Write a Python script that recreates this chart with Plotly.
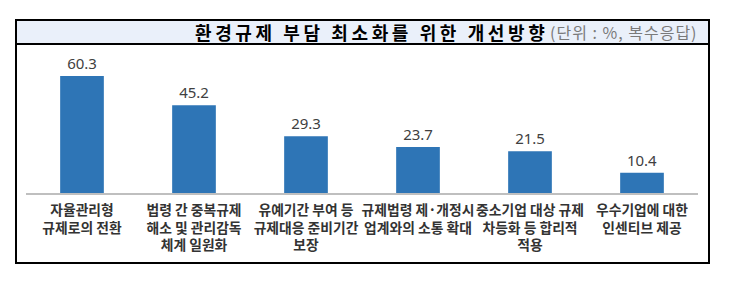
import plotly.graph_objects as go

categories = [
    "자율관리형<br>규제로의 전환",
    "법령 간 중복규제<br>해소 및 관리감독<br>체계 일원화",
    "유예기간 부여 등<br>규제대응 준비기간<br>보장",
    "규제법령 제·개정시<br>업계와의 소통 확대",
    "중소기업 대상 규제<br>차등화 등 합리적<br>적용",
    "우수기업에 대한<br>인센티브 제공",
]
values = [60.3, 45.2, 29.3, 23.7, 21.5, 10.4]
title_text = "환경규제 부담 최소화를 위한 개선방향"
unit_text = "(단위 : %, 복수응답)"

W, H = 730, 281
L, R = 26, 698
T, B = 45, 193
pw, ph = R - L, B - T

def px(x):
    return (x - L) / pw

def py(y):
    return (B - y) / ph

def spaced(s, sep="\u2009"):
    return sep.join(list(s))

font_kr = "Noto Sans CJK KR"

fig = go.Figure()
fig.add_trace(go.Bar(
    x=list(range(len(categories))),
    y=values,
    marker=dict(color="#2e75b6", line=dict(width=0)),
    text=[f"{v:.1f}" for v in values],
    textposition="outside",
    textfont=dict(family="Noto Sans", size=15, color="#404040"),
    cliponaxis=False,
    width=0.39,
))

fig.update_layout(
    width=W, height=H,
    margin=dict(l=L, r=W - R, t=T, b=H - B, pad=0),
    paper_bgcolor="white",
    plot_bgcolor="white",
    showlegend=False,
    xaxis=dict(
        tickmode="array",
        tickvals=list(range(len(categories))),
        ticktext=categories,
        range=[-0.5, len(categories) - 0.5],
        showline=True, linecolor="#bfbfbf", linewidth=2,
        showgrid=False, zeroline=False,
        ticks="", ticklabelstandoff=3, tickangle=0, automargin=False,
        tickfont=dict(family=font_kr, size=13.8, color="#333333", weight="bold"),
    ),
    yaxis=dict(
        range=[0, ph / 1.94],
        visible=False, automargin=False,
        showgrid=False, zeroline=False,
    ),
    shapes=[
        dict(type="rect", xref="paper", yref="paper",
             x0=px(16), x1=px(709), y0=py(44), y1=py(20),
             fillcolor="#eaf0fa", line=dict(width=0), layer="below"),
        dict(type="rect", xref="paper", yref="paper",
             x0=px(16), x1=px(709), y0=py(263), y1=py(20),
             fillcolor="rgba(0,0,0,0)", line=dict(color="black", width=2)),
        dict(type="line", xref="paper", yref="paper",
             x0=px(16), x1=px(709), y0=py(44), y1=py(44),
             line=dict(color="black", width=2)),
    ],
    annotations=[
        dict(text=spaced(title_text), xref="paper", yref="paper",
             x=px(547), y=py(32), xanchor="right", yanchor="middle",
             showarrow=False,
             font=dict(family=font_kr, size=18, color="black", weight="bold")),
        dict(text=spaced(unit_text, "\u200a"), xref="paper", yref="paper",
             x=px(699), y=py(32), xanchor="right", yanchor="middle",
             showarrow=False,
             font=dict(family=font_kr, size=16, color="#7a7a7a")),
    ],
)

fig.write_html("out.html")
